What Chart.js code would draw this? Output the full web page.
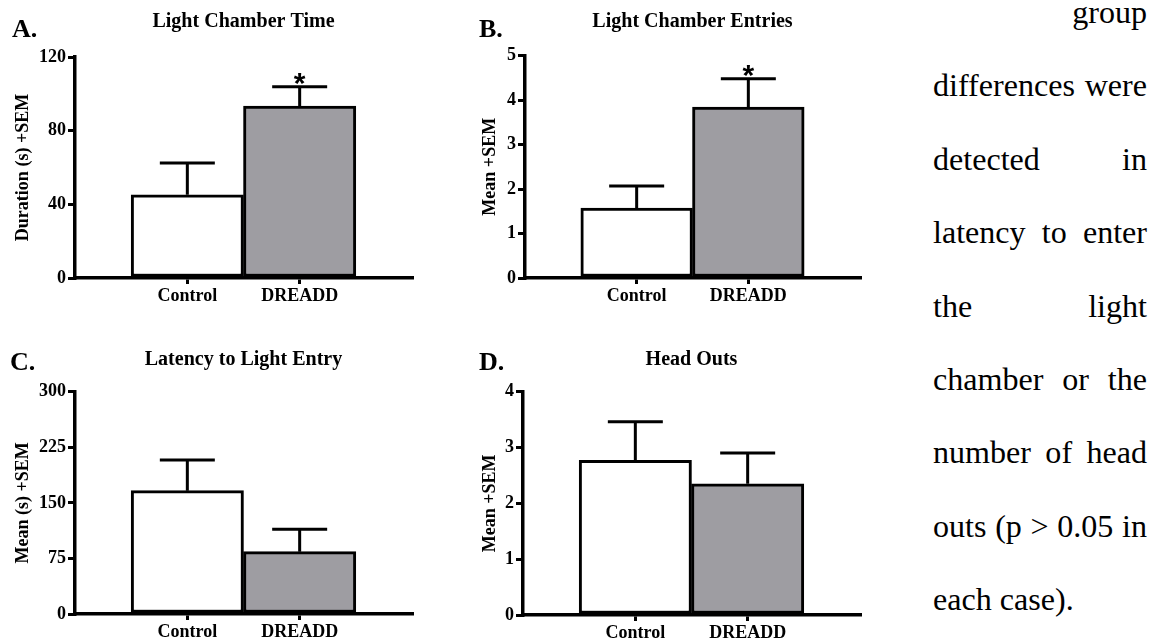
<!DOCTYPE html>
<html><head><meta charset="utf-8">
<script src="https://cdn.jsdelivr.net/npm/chart.js@4.4.1/dist/chart.umd.min.js"></script>
<style>
html,body{margin:0;padding:0;background:#fff;}
body{width:1158px;height:644px;position:relative;overflow:hidden;}
canvas{position:absolute;}
#para{position:absolute;left:933px;top:-24px;width:214px;color:#000;}
#para div{height:73.4px;line-height:73.4px;text-align:justify;text-align-last:justify;}
#para div.r{text-align:right;text-align-last:right;}
#para div.l{text-align:left;text-align-last:left;}
</style></head>
<body>
<canvas id="cA" width="440" height="310" style="left:0;top:0"></canvas>
<canvas id="cB" width="440" height="310" style="left:440px;top:0"></canvas>
<canvas id="cC" width="440" height="334" style="left:0;top:310px"></canvas>
<canvas id="cD" width="440" height="334" style="left:440px;top:310px"></canvas>
<div id="para"></div>
<script>
// ---- data ----
const categories = ['Control', 'DREADD'];
const barFills = ['#ffffff', '#9e9da2'];

const titleA = 'Light Chamber Time';
const yTitleA = 'Duration (s) +SEM';
const meanA = [45.2, 93.4];
const semA = [17.2, 10.5];
const sigA = [false, true];
const yTicksA = [0, 40, 80, 120];

const titleB = 'Light Chamber Entries';
const yTitleB = 'Mean +SEM';
const meanB = [1.57, 3.84];
const semB = [0.50, 0.64];
const sigB = [false, true];
const yTicksB = [0, 1, 2, 3, 4, 5];

const titleC = 'Latency to Light Entry';
const yTitleC = 'Mean (s) +SEM';
const meanC = [166.4, 84.1];
const semC = [41.4, 30.2];
const sigC = [false, false];
const yTicksC = [0, 75, 150, 225, 300];

const titleD = 'Head Outs';
const yTitleD = 'Mean +SEM';
const meanD = [2.77, 2.35];
const semD = [0.69, 0.55];
const sigD = [false, false];
const yTicksD = [0, 1, 2, 3, 4];

const paragraphLines = ['group', 'differences were', 'detected in', 'latency to enter', 'the light', 'chamber or the', 'number of head', 'outs (p > 0.05 in', 'each case).'];

// ---- font detection (Times-like serif) ----
const mctx = document.createElement('canvas').getContext('2d');
function hasFont(name) {
  const s = 'Light Chamber Time differences 0123 DREADD';
  for (const base of ['monospace', 'sans-serif']) {
    mctx.font = '40px ' + base;
    const w0 = mctx.measureText(s).width;
    mctx.font = '40px "' + name + '", ' + base;
    const w1 = mctx.measureText(s).width;
    if (Math.abs(w0 - w1) > 0.5) return true;
  }
  return false;
}
const serifCandidates = ['Liberation Serif', 'Tinos', 'Times New Roman', 'Nimbus Roman', 'Nimbus Roman No9 L', 'DejaVu Serif', 'Noto Serif', 'FreeSerif'];
const found = serifCandidates.find(hasFont);
const SERIF = found ? '"' + found + '", serif' : 'serif';
mctx.font = 'bold 100px ' + SERIF;
let kb = 911.1 / mctx.measureText('Light Chamber Time').width;
mctx.font = '100px ' + SERIF;
let kr = 663.5 / mctx.measureText('differences were').width;
kb = Math.min(1.1, Math.max(0.7, kb));
kr = Math.min(1.1, Math.max(0.7, kr));

// ---- paragraph ----
const para = document.getElementById('para');
para.style.fontFamily = SERIF;
para.style.fontSize = (32 * kr).toFixed(2) + 'px';
paragraphLines.forEach((t, i) => {
  const d = document.createElement('div');
  d.textContent = t;
  if (i === 0) d.className = 'r';
  if (i === paragraphLines.length - 1) d.className = 'l';
  para.appendChild(d);
});

const xLabels = [''].concat(categories, ['']);

function makePanel(id, p) {
  const overlay = {
    id: 'overlay_' + id,
    afterDatasetsDraw(chart) {
      const ctx = chart.ctx, xs = chart.scales.x, ys = chart.scales.y;
      ctx.save();
      ctx.strokeStyle = '#000';
      ctx.fillStyle = '#000';
      ctx.lineWidth = 3;
      ctx.lineCap = 'butt';
      p.means.forEach((m, i) => {
        const x = xs.getPixelForValue(i + 1);
        const y0 = ys.getPixelForValue(m);
        const y1 = ys.getPixelForValue(m + p.sems[i]);
        ctx.beginPath();
        ctx.moveTo(x, y0);
        ctx.lineTo(x, y1);
        ctx.moveTo(x - 27.5, y1);
        ctx.lineTo(x + 27.5, y1);
        ctx.stroke();
        if (p.sig[i]) {
          ctx.font = "bold 30px 'Liberation Sans', Arial, sans-serif";
          ctx.textAlign = 'center';
          ctx.textBaseline = 'alphabetic';
          ctx.fillText('*', x, y1 + 6);
        }
      });
      ctx.restore();
    },
    afterDraw(chart) {
      const ctx = chart.ctx, a = chart.chartArea;
      ctx.save();
      ctx.fillStyle = '#000';
      ctx.textBaseline = 'alphabetic';
      ctx.font = 'bold ' + (20 * kb).toFixed(2) + 'px ' + SERIF;
      ctx.textAlign = 'center';
      ctx.fillText(p.title, (a.left + a.right) / 2, p.titleY);
      ctx.font = 'bold ' + (26 * kb).toFixed(2) + 'px ' + SERIF;
      ctx.textAlign = 'left';
      ctx.fillText(p.label, p.labelX, p.labelY);
      ctx.translate(p.yTitleX, (a.top + a.bottom) / 2);
      ctx.rotate(-Math.PI / 2);
      ctx.font = 'bold ' + (18 * kb).toFixed(2) + 'px ' + SERIF;
      ctx.textAlign = 'center';
      ctx.textBaseline = 'middle';
      ctx.fillText(p.yTitle, 0, 0);
      ctx.restore();
    }
  };
  const tickCol = (c) => (c.tick && c.tick.label) ? '#000' : 'rgba(0,0,0,0)';
  new Chart(document.getElementById(id), {
    type: 'bar',
    data: {
      labels: xLabels,
      datasets: [{
        data: [null].concat(p.means, [null]),
        backgroundColor: [null].concat(barFills, [null]),
        borderColor: '#000',
        borderWidth: 3,
        borderSkipped: false,
        barPercentage: 1,
        categoryPercentage: 1
      }]
    },
    options: {
      responsive: false,
      animation: false,
      devicePixelRatio: 1,
      layout: { padding: { top: p.top, right: p.right, left: 0, bottom: 0 } },
      plugins: { legend: { display: false }, tooltip: { enabled: false }, title: { display: false } },
      scales: {
        x: {
          type: 'category', offset: false,
          afterFit: s => { s.height = p.xh; },
          ticks: {
            font: { family: SERIF, size: 18 * kb, weight: 'bold' },
            color: '#000', padding: 2, maxRotation: 0, autoSkip: false
          },
          grid: { offset: false, drawOnChartArea: false, drawTicks: true, tickLength: 6, tickWidth: 3, tickColor: tickCol, color: tickCol, lineWidth: 3 },
          border: { display: true, color: '#000', width: 3.5 }
        },
        y: {
          min: 0, max: p.yTicks[p.yTicks.length - 1],
          afterBuildTicks: s => { s.ticks = p.yTicks.map(v => ({ value: v })); },
          afterFit: s => { s.width = p.left; },
          ticks: {
            font: { family: SERIF, size: 18 * kb, weight: 'bold' },
            color: '#000', padding: 2
          },
          grid: { drawOnChartArea: false, drawTicks: true, tickLength: 7, tickWidth: 3, tickColor: '#000', color: '#000', lineWidth: 3 },
          border: { display: true, color: '#000', width: 3.5 }
        }
      }
    },
    plugins: [overlay]
  });
}

makePanel('cA', { means: meanA, sems: semA, sig: sigA, yTicks: yTicksA, title: titleA, yTitle: yTitleA, label: 'A.',
  left: 75, right: 28, top: 57, xh: 32, titleY: 27, labelX: 12, labelY: 37, yTitleX: 23.5 });
makePanel('cB', { means: meanB, sems: semB, sig: sigB, yTicks: yTicksB, title: titleB, yTitle: yTitleB, label: 'B.',
  left: 85, right: 20, top: 55.5, xh: 32, titleY: 27, labelX: 39, labelY: 37, yTitleX: 50.5 });
makePanel('cC', { means: meanC, sems: semC, sig: sigC, yTicks: yTicksC, title: titleC, yTitle: yTitleC, label: 'C.',
  left: 75, right: 28, top: 81.7, xh: 30, titleY: 55, labelX: 10, labelY: 60, yTitleX: 23.5 });
makePanel('cD', { means: meanD, sems: semD, sig: sigD, yTicks: yTicksD, title: titleD, yTitle: yTitleD, label: 'D.',
  left: 83, right: 20, top: 81.7, xh: 29, titleY: 55, labelX: 39, labelY: 60, yTitleX: 50.5 });
</script>
</body></html>
